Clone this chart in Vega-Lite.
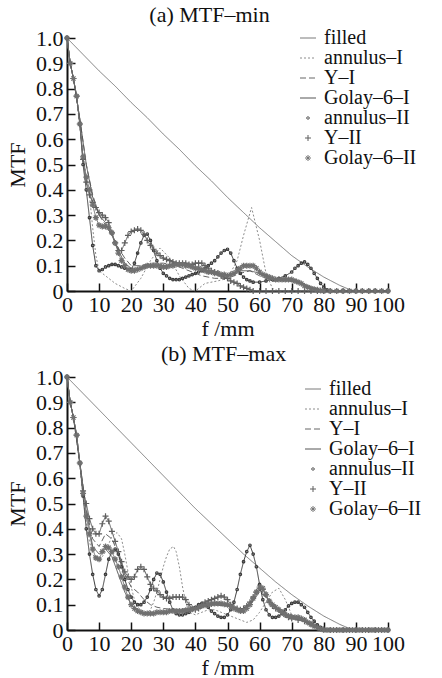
{
"$schema": "https://vega.github.io/schema/vega-lite/v6.json",
"padding": {"left": 6, "top": 4, "right": 5, "bottom": 0},
"config": {
  "font": "Liberation Serif",
  "view": {"stroke": null},
  "axis": {"labelFont": "Liberation Serif", "labelFontSize": 22, "labelColor": "#111", "titleFont": "Liberation Serif", "titleFontSize": 22, "titleFontWeight": "normal", "titleColor": "#111", "domainColor": "#111", "domainWidth": 2, "tickColor": "#111", "tickWidth": 1.5, "tickSize": -8, "grid": false, "labelFlush": false, "labelOverlap": false},
  "legend": {"labelFont": "Liberation Serif", "labelFontSize": 20, "labelColor": "#111", "symbolSize": 100, "symbolStrokeWidth": 1, "rowPadding": 0, "labelOffset": 6},
  "title": {"font": "Liberation Serif", "fontSize": 22, "fontWeight": "normal", "color": "#111"}
},
"datasets": {"mtf": [
{"p":"a","s":"filled","f":0,"v":1},{"p":"a","s":"filled","f":5,"v":0.935},{"p":"a","s":"filled","f":10,"v":0.87},{"p":"a","s":"filled","f":15,"v":0.81},{"p":"a","s":"filled","f":20,"v":0.745},{"p":"a","s":"filled","f":25,"v":0.685},{"p":"a","s":"filled","f":30,"v":0.62},{"p":"a","s":"filled","f":35,"v":0.56},{"p":"a","s":"filled","f":40,"v":0.495},{"p":"a","s":"filled","f":45,"v":0.435},{"p":"a","s":"filled","f":50,"v":0.37},{"p":"a","s":"filled","f":55,"v":0.31},{"p":"a","s":"filled","f":60,"v":0.25},{"p":"a","s":"filled","f":65,"v":0.195},{"p":"a","s":"filled","f":70,"v":0.14},{"p":"a","s":"filled","f":75,"v":0.095},{"p":"a","s":"filled","f":80,"v":0.055},{"p":"a","s":"filled","f":85,"v":0.022},{"p":"a","s":"filled","f":88,"v":0.006},{"p":"a","s":"filled","f":90,"v":0},{"p":"a","s":"filled","f":100,"v":0},

{"p":"a","s":"annulus–I","f":0,"v":1},{"p":"a","s":"annulus–I","f":1,"v":0.9},{"p":"a","s":"annulus–I","f":2,"v":0.84},{"p":"a","s":"annulus–I","f":3,"v":0.76},{"p":"a","s":"annulus–I","f":4,"v":0.65},{"p":"a","s":"annulus–I","f":5,"v":0.54},{"p":"a","s":"annulus–I","f":6,"v":0.45},{"p":"a","s":"annulus–I","f":7,"v":0.38},{"p":"a","s":"annulus–I","f":8,"v":0.25},{"p":"a","s":"annulus–I","f":9,"v":0.14},{"p":"a","s":"annulus–I","f":10,"v":0.08},{"p":"a","s":"annulus–I","f":12,"v":0.06},{"p":"a","s":"annulus–I","f":15,"v":0.03},{"p":"a","s":"annulus–I","f":18,"v":0.01},{"p":"a","s":"annulus–I","f":20,"v":0},{"p":"a","s":"annulus–I","f":23,"v":0.05},{"p":"a","s":"annulus–I","f":26,"v":0.12},{"p":"a","s":"annulus–I","f":29,"v":0.17},{"p":"a","s":"annulus–I","f":32,"v":0.13},{"p":"a","s":"annulus–I","f":35,"v":0.06},{"p":"a","s":"annulus–I","f":38,"v":0.01},{"p":"a","s":"annulus–I","f":40,"v":0},{"p":"a","s":"annulus–I","f":43,"v":0.03},{"p":"a","s":"annulus–I","f":47,"v":0.04},{"p":"a","s":"annulus–I","f":50,"v":0.05},{"p":"a","s":"annulus–I","f":53,"v":0.12},{"p":"a","s":"annulus–I","f":55,"v":0.22},{"p":"a","s":"annulus–I","f":57.5,"v":0.33},{"p":"a","s":"annulus–I","f":60,"v":0.2},{"p":"a","s":"annulus–I","f":62,"v":0.07},{"p":"a","s":"annulus–I","f":64,"v":0.01},{"p":"a","s":"annulus–I","f":66,"v":0},{"p":"a","s":"annulus–I","f":100,"v":0},

{"p":"a","s":"Y–I","f":0,"v":1},{"p":"a","s":"Y–I","f":1,"v":0.9},{"p":"a","s":"Y–I","f":2,"v":0.84},{"p":"a","s":"Y–I","f":4,"v":0.68},{"p":"a","s":"Y–I","f":6,"v":0.5},{"p":"a","s":"Y–I","f":8,"v":0.38},{"p":"a","s":"Y–I","f":10,"v":0.3},{"p":"a","s":"Y–I","f":12,"v":0.26},{"p":"a","s":"Y–I","f":14,"v":0.22},{"p":"a","s":"Y–I","f":16,"v":0.17},{"p":"a","s":"Y–I","f":18,"v":0.13},{"p":"a","s":"Y–I","f":20,"v":0.1},{"p":"a","s":"Y–I","f":23,"v":0.1},{"p":"a","s":"Y–I","f":26,"v":0.11},{"p":"a","s":"Y–I","f":30,"v":0.11},{"p":"a","s":"Y–I","f":34,"v":0.1},{"p":"a","s":"Y–I","f":38,"v":0.08},{"p":"a","s":"Y–I","f":42,"v":0.06},{"p":"a","s":"Y–I","f":46,"v":0.05},{"p":"a","s":"Y–I","f":50,"v":0.05},{"p":"a","s":"Y–I","f":54,"v":0.07},{"p":"a","s":"Y–I","f":57,"v":0.08},{"p":"a","s":"Y–I","f":60,"v":0.06},{"p":"a","s":"Y–I","f":64,"v":0.04},{"p":"a","s":"Y–I","f":68,"v":0.04},{"p":"a","s":"Y–I","f":72,"v":0.035},{"p":"a","s":"Y–I","f":76,"v":0.015},{"p":"a","s":"Y–I","f":80,"v":0},{"p":"a","s":"Y–I","f":100,"v":0},

{"p":"a","s":"Golay–6–I","f":0,"v":1},{"p":"a","s":"Golay–6–I","f":1,"v":0.9},{"p":"a","s":"Golay–6–I","f":2,"v":0.84},{"p":"a","s":"Golay–6–I","f":4,"v":0.68},{"p":"a","s":"Golay–6–I","f":6,"v":0.5},{"p":"a","s":"Golay–6–I","f":8,"v":0.37},{"p":"a","s":"Golay–6–I","f":10,"v":0.3},{"p":"a","s":"Golay–6–I","f":12,"v":0.27},{"p":"a","s":"Golay–6–I","f":14,"v":0.22},{"p":"a","s":"Golay–6–I","f":16,"v":0.16},{"p":"a","s":"Golay–6–I","f":18,"v":0.11},{"p":"a","s":"Golay–6–I","f":20,"v":0.09},{"p":"a","s":"Golay–6–I","f":23,"v":0.09},{"p":"a","s":"Golay–6–I","f":26,"v":0.1},{"p":"a","s":"Golay–6–I","f":30,"v":0.1},{"p":"a","s":"Golay–6–I","f":34,"v":0.11},{"p":"a","s":"Golay–6–I","f":38,"v":0.1},{"p":"a","s":"Golay–6–I","f":42,"v":0.08},{"p":"a","s":"Golay–6–I","f":46,"v":0.07},{"p":"a","s":"Golay–6–I","f":50,"v":0.06},{"p":"a","s":"Golay–6–I","f":54,"v":0.08},{"p":"a","s":"Golay–6–I","f":57,"v":0.08},{"p":"a","s":"Golay–6–I","f":60,"v":0.07},{"p":"a","s":"Golay–6–I","f":64,"v":0.04},{"p":"a","s":"Golay–6–I","f":68,"v":0.045},{"p":"a","s":"Golay–6–I","f":71,"v":0.045},{"p":"a","s":"Golay–6–I","f":75,"v":0.02},{"p":"a","s":"Golay–6–I","f":79,"v":0.005},{"p":"a","s":"Golay–6–I","f":82,"v":0},{"p":"a","s":"Golay–6–I","f":100,"v":0},

{"p":"a","s":"annulus–II","f":0,"v":1},{"p":"a","s":"annulus–II","f":1,"v":0.9},{"p":"a","s":"annulus–II","f":2,"v":0.84},{"p":"a","s":"annulus–II","f":3,"v":0.77},{"p":"a","s":"annulus–II","f":4,"v":0.66},{"p":"a","s":"annulus–II","f":5,"v":0.5},{"p":"a","s":"annulus–II","f":6,"v":0.4},{"p":"a","s":"annulus–II","f":7,"v":0.29},{"p":"a","s":"annulus–II","f":8,"v":0.18},{"p":"a","s":"annulus–II","f":9,"v":0.1},{"p":"a","s":"annulus–II","f":10,"v":0.08},{"p":"a","s":"annulus–II","f":11,"v":0.085},{"p":"a","s":"annulus–II","f":12,"v":0.095},{"p":"a","s":"annulus–II","f":13,"v":0.1},{"p":"a","s":"annulus–II","f":14,"v":0.105},{"p":"a","s":"annulus–II","f":15,"v":0.105},{"p":"a","s":"annulus–II","f":16,"v":0.1},{"p":"a","s":"annulus–II","f":17,"v":0.095},{"p":"a","s":"annulus–II","f":18,"v":0.09},{"p":"a","s":"annulus–II","f":19,"v":0.085},{"p":"a","s":"annulus–II","f":20,"v":0.085},{"p":"a","s":"annulus–II","f":21,"v":0.11},{"p":"a","s":"annulus–II","f":22,"v":0.15},{"p":"a","s":"annulus–II","f":23,"v":0.19},{"p":"a","s":"annulus–II","f":24,"v":0.22},{"p":"a","s":"annulus–II","f":25,"v":0.225},{"p":"a","s":"annulus–II","f":26,"v":0.2},{"p":"a","s":"annulus–II","f":27,"v":0.16},{"p":"a","s":"annulus–II","f":28,"v":0.12},{"p":"a","s":"annulus–II","f":29,"v":0.09},{"p":"a","s":"annulus–II","f":30,"v":0.07},{"p":"a","s":"annulus–II","f":31,"v":0.06},{"p":"a","s":"annulus–II","f":32,"v":0.05},{"p":"a","s":"annulus–II","f":33,"v":0.045},{"p":"a","s":"annulus–II","f":34,"v":0.045},{"p":"a","s":"annulus–II","f":35,"v":0.045},{"p":"a","s":"annulus–II","f":36,"v":0.05},{"p":"a","s":"annulus–II","f":37,"v":0.055},{"p":"a","s":"annulus–II","f":38,"v":0.06},{"p":"a","s":"annulus–II","f":39,"v":0.065},{"p":"a","s":"annulus–II","f":40,"v":0.07},{"p":"a","s":"annulus–II","f":41,"v":0.075},{"p":"a","s":"annulus–II","f":42,"v":0.08},{"p":"a","s":"annulus–II","f":43,"v":0.09},{"p":"a","s":"annulus–II","f":44,"v":0.1},{"p":"a","s":"annulus–II","f":45,"v":0.11},{"p":"a","s":"annulus–II","f":46,"v":0.12},{"p":"a","s":"annulus–II","f":47,"v":0.135},{"p":"a","s":"annulus–II","f":48,"v":0.15},{"p":"a","s":"annulus–II","f":49,"v":0.16},{"p":"a","s":"annulus–II","f":50,"v":0.165},{"p":"a","s":"annulus–II","f":51,"v":0.15},{"p":"a","s":"annulus–II","f":52,"v":0.12},{"p":"a","s":"annulus–II","f":53,"v":0.09},{"p":"a","s":"annulus–II","f":54,"v":0.07},{"p":"a","s":"annulus–II","f":55,"v":0.055},{"p":"a","s":"annulus–II","f":56,"v":0.045},{"p":"a","s":"annulus–II","f":57,"v":0.04},{"p":"a","s":"annulus–II","f":58,"v":0.035},{"p":"a","s":"annulus–II","f":60,"v":0.035},{"p":"a","s":"annulus–II","f":62,"v":0.04},{"p":"a","s":"annulus–II","f":64,"v":0.045},{"p":"a","s":"annulus–II","f":66,"v":0.05},{"p":"a","s":"annulus–II","f":68,"v":0.06},{"p":"a","s":"annulus–II","f":70,"v":0.075},{"p":"a","s":"annulus–II","f":71,"v":0.09},{"p":"a","s":"annulus–II","f":72,"v":0.1},{"p":"a","s":"annulus–II","f":73,"v":0.11},{"p":"a","s":"annulus–II","f":74,"v":0.115},{"p":"a","s":"annulus–II","f":75,"v":0.105},{"p":"a","s":"annulus–II","f":76,"v":0.09},{"p":"a","s":"annulus–II","f":77,"v":0.07},{"p":"a","s":"annulus–II","f":78,"v":0.05},{"p":"a","s":"annulus–II","f":79,"v":0.03},{"p":"a","s":"annulus–II","f":80,"v":0.015},{"p":"a","s":"annulus–II","f":81,"v":0.005},{"p":"a","s":"annulus–II","f":82,"v":0},{"p":"a","s":"annulus–II","f":84,"v":0},{"p":"a","s":"annulus–II","f":86,"v":0},{"p":"a","s":"annulus–II","f":88,"v":0},{"p":"a","s":"annulus–II","f":90,"v":0},{"p":"a","s":"annulus–II","f":92,"v":0},{"p":"a","s":"annulus–II","f":94,"v":0},{"p":"a","s":"annulus–II","f":96,"v":0},{"p":"a","s":"annulus–II","f":98,"v":0},{"p":"a","s":"annulus–II","f":100,"v":0},

{"p":"a","s":"Y–II","f":0,"v":1},{"p":"a","s":"Y–II","f":1,"v":0.9},{"p":"a","s":"Y–II","f":2,"v":0.84},{"p":"a","s":"Y–II","f":3,"v":0.77},{"p":"a","s":"Y–II","f":4,"v":0.66},{"p":"a","s":"Y–II","f":5,"v":0.52},{"p":"a","s":"Y–II","f":6,"v":0.43},{"p":"a","s":"Y–II","f":7,"v":0.38},{"p":"a","s":"Y–II","f":8,"v":0.35},{"p":"a","s":"Y–II","f":9,"v":0.33},{"p":"a","s":"Y–II","f":10,"v":0.31},{"p":"a","s":"Y–II","f":11,"v":0.3},{"p":"a","s":"Y–II","f":12,"v":0.29},{"p":"a","s":"Y–II","f":13,"v":0.27},{"p":"a","s":"Y–II","f":14,"v":0.23},{"p":"a","s":"Y–II","f":15,"v":0.19},{"p":"a","s":"Y–II","f":16,"v":0.16},{"p":"a","s":"Y–II","f":17,"v":0.16},{"p":"a","s":"Y–II","f":18,"v":0.19},{"p":"a","s":"Y–II","f":19,"v":0.22},{"p":"a","s":"Y–II","f":20,"v":0.235},{"p":"a","s":"Y–II","f":21,"v":0.24},{"p":"a","s":"Y–II","f":22,"v":0.245},{"p":"a","s":"Y–II","f":23,"v":0.24},{"p":"a","s":"Y–II","f":24,"v":0.225},{"p":"a","s":"Y–II","f":25,"v":0.2},{"p":"a","s":"Y–II","f":26,"v":0.18},{"p":"a","s":"Y–II","f":27,"v":0.165},{"p":"a","s":"Y–II","f":28,"v":0.15},{"p":"a","s":"Y–II","f":29,"v":0.14},{"p":"a","s":"Y–II","f":30,"v":0.13},{"p":"a","s":"Y–II","f":31,"v":0.125},{"p":"a","s":"Y–II","f":32,"v":0.12},{"p":"a","s":"Y–II","f":33,"v":0.115},{"p":"a","s":"Y–II","f":34,"v":0.11},{"p":"a","s":"Y–II","f":35,"v":0.11},{"p":"a","s":"Y–II","f":36,"v":0.11},{"p":"a","s":"Y–II","f":37,"v":0.11},{"p":"a","s":"Y–II","f":38,"v":0.105},{"p":"a","s":"Y–II","f":39,"v":0.105},{"p":"a","s":"Y–II","f":40,"v":0.11},{"p":"a","s":"Y–II","f":41,"v":0.11},{"p":"a","s":"Y–II","f":42,"v":0.11},{"p":"a","s":"Y–II","f":43,"v":0.1},{"p":"a","s":"Y–II","f":44,"v":0.09},{"p":"a","s":"Y–II","f":45,"v":0.08},{"p":"a","s":"Y–II","f":46,"v":0.075},{"p":"a","s":"Y–II","f":47,"v":0.07},{"p":"a","s":"Y–II","f":48,"v":0.06},{"p":"a","s":"Y–II","f":49,"v":0.055},{"p":"a","s":"Y–II","f":50,"v":0.05},{"p":"a","s":"Y–II","f":51,"v":0.04},{"p":"a","s":"Y–II","f":52,"v":0.035},{"p":"a","s":"Y–II","f":53,"v":0.03},{"p":"a","s":"Y–II","f":54,"v":0.02},{"p":"a","s":"Y–II","f":55,"v":0.015},{"p":"a","s":"Y–II","f":56,"v":0.01},{"p":"a","s":"Y–II","f":57,"v":0.005},{"p":"a","s":"Y–II","f":58,"v":0},{"p":"a","s":"Y–II","f":60,"v":0},{"p":"a","s":"Y–II","f":62,"v":0},{"p":"a","s":"Y–II","f":64,"v":0},{"p":"a","s":"Y–II","f":66,"v":0},{"p":"a","s":"Y–II","f":68,"v":0},{"p":"a","s":"Y–II","f":70,"v":0},{"p":"a","s":"Y–II","f":72,"v":0},{"p":"a","s":"Y–II","f":74,"v":0},{"p":"a","s":"Y–II","f":76,"v":0},{"p":"a","s":"Y–II","f":78,"v":0},{"p":"a","s":"Y–II","f":80,"v":0},{"p":"a","s":"Y–II","f":82,"v":0},{"p":"a","s":"Y–II","f":84,"v":0},{"p":"a","s":"Y–II","f":86,"v":0},{"p":"a","s":"Y–II","f":88,"v":0},{"p":"a","s":"Y–II","f":90,"v":0},{"p":"a","s":"Y–II","f":92,"v":0},{"p":"a","s":"Y–II","f":94,"v":0},{"p":"a","s":"Y–II","f":96,"v":0},{"p":"a","s":"Y–II","f":98,"v":0},{"p":"a","s":"Y–II","f":100,"v":0},

{"p":"a","s":"Golay–6–II","f":0,"v":1},{"p":"a","s":"Golay–6–II","f":1,"v":0.9},{"p":"a","s":"Golay–6–II","f":2,"v":0.84},{"p":"a","s":"Golay–6–II","f":3,"v":0.77},{"p":"a","s":"Golay–6–II","f":4,"v":0.66},{"p":"a","s":"Golay–6–II","f":5,"v":0.53},{"p":"a","s":"Golay–6–II","f":6,"v":0.45},{"p":"a","s":"Golay–6–II","f":7,"v":0.4},{"p":"a","s":"Golay–6–II","f":8,"v":0.34},{"p":"a","s":"Golay–6–II","f":9,"v":0.29},{"p":"a","s":"Golay–6–II","f":10,"v":0.26},{"p":"a","s":"Golay–6–II","f":11,"v":0.255},{"p":"a","s":"Golay–6–II","f":12,"v":0.255},{"p":"a","s":"Golay–6–II","f":13,"v":0.25},{"p":"a","s":"Golay–6–II","f":14,"v":0.23},{"p":"a","s":"Golay–6–II","f":15,"v":0.19},{"p":"a","s":"Golay–6–II","f":16,"v":0.15},{"p":"a","s":"Golay–6–II","f":17,"v":0.12},{"p":"a","s":"Golay–6–II","f":18,"v":0.1},{"p":"a","s":"Golay–6–II","f":19,"v":0.085},{"p":"a","s":"Golay–6–II","f":20,"v":0.08},{"p":"a","s":"Golay–6–II","f":21,"v":0.08},{"p":"a","s":"Golay–6–II","f":22,"v":0.085},{"p":"a","s":"Golay–6–II","f":23,"v":0.09},{"p":"a","s":"Golay–6–II","f":24,"v":0.095},{"p":"a","s":"Golay–6–II","f":25,"v":0.1},{"p":"a","s":"Golay–6–II","f":26,"v":0.1},{"p":"a","s":"Golay–6–II","f":27,"v":0.1},{"p":"a","s":"Golay–6–II","f":28,"v":0.1},{"p":"a","s":"Golay–6–II","f":29,"v":0.1},{"p":"a","s":"Golay–6–II","f":30,"v":0.095},{"p":"a","s":"Golay–6–II","f":31,"v":0.095},{"p":"a","s":"Golay–6–II","f":32,"v":0.1},{"p":"a","s":"Golay–6–II","f":33,"v":0.1},{"p":"a","s":"Golay–6–II","f":34,"v":0.105},{"p":"a","s":"Golay–6–II","f":35,"v":0.105},{"p":"a","s":"Golay–6–II","f":36,"v":0.105},{"p":"a","s":"Golay–6–II","f":37,"v":0.1},{"p":"a","s":"Golay–6–II","f":38,"v":0.1},{"p":"a","s":"Golay–6–II","f":39,"v":0.095},{"p":"a","s":"Golay–6–II","f":40,"v":0.09},{"p":"a","s":"Golay–6–II","f":41,"v":0.09},{"p":"a","s":"Golay–6–II","f":42,"v":0.085},{"p":"a","s":"Golay–6–II","f":43,"v":0.08},{"p":"a","s":"Golay–6–II","f":44,"v":0.075},{"p":"a","s":"Golay–6–II","f":45,"v":0.075},{"p":"a","s":"Golay–6–II","f":46,"v":0.07},{"p":"a","s":"Golay–6–II","f":47,"v":0.07},{"p":"a","s":"Golay–6–II","f":48,"v":0.065},{"p":"a","s":"Golay–6–II","f":49,"v":0.065},{"p":"a","s":"Golay–6–II","f":50,"v":0.06},{"p":"a","s":"Golay–6–II","f":51,"v":0.065},{"p":"a","s":"Golay–6–II","f":52,"v":0.07},{"p":"a","s":"Golay–6–II","f":53,"v":0.08},{"p":"a","s":"Golay–6–II","f":54,"v":0.09},{"p":"a","s":"Golay–6–II","f":55,"v":0.1},{"p":"a","s":"Golay–6–II","f":56,"v":0.1},{"p":"a","s":"Golay–6–II","f":57,"v":0.1},{"p":"a","s":"Golay–6–II","f":58,"v":0.1},{"p":"a","s":"Golay–6–II","f":59,"v":0.09},{"p":"a","s":"Golay–6–II","f":60,"v":0.075},{"p":"a","s":"Golay–6–II","f":61,"v":0.065},{"p":"a","s":"Golay–6–II","f":62,"v":0.06},{"p":"a","s":"Golay–6–II","f":63,"v":0.055},{"p":"a","s":"Golay–6–II","f":64,"v":0.05},{"p":"a","s":"Golay–6–II","f":65,"v":0.045},{"p":"a","s":"Golay–6–II","f":66,"v":0.045},{"p":"a","s":"Golay–6–II","f":67,"v":0.045},{"p":"a","s":"Golay–6–II","f":68,"v":0.045},{"p":"a","s":"Golay–6–II","f":69,"v":0.045},{"p":"a","s":"Golay–6–II","f":70,"v":0.045},{"p":"a","s":"Golay–6–II","f":71,"v":0.04},{"p":"a","s":"Golay–6–II","f":72,"v":0.035},{"p":"a","s":"Golay–6–II","f":73,"v":0.03},{"p":"a","s":"Golay–6–II","f":74,"v":0.02},{"p":"a","s":"Golay–6–II","f":75,"v":0.015},{"p":"a","s":"Golay–6–II","f":76,"v":0.01},{"p":"a","s":"Golay–6–II","f":77,"v":0.007},{"p":"a","s":"Golay–6–II","f":78,"v":0.005},{"p":"a","s":"Golay–6–II","f":79,"v":0.002},{"p":"a","s":"Golay–6–II","f":80,"v":0},{"p":"a","s":"Golay–6–II","f":82,"v":0},{"p":"a","s":"Golay–6–II","f":84,"v":0},{"p":"a","s":"Golay–6–II","f":86,"v":0},{"p":"a","s":"Golay–6–II","f":88,"v":0},{"p":"a","s":"Golay–6–II","f":90,"v":0},{"p":"a","s":"Golay–6–II","f":92,"v":0},{"p":"a","s":"Golay–6–II","f":94,"v":0},{"p":"a","s":"Golay–6–II","f":96,"v":0},{"p":"a","s":"Golay–6–II","f":98,"v":0},{"p":"a","s":"Golay–6–II","f":100,"v":0},

{"p":"b","s":"filled","f":0,"v":1},{"p":"b","s":"filled","f":5,"v":0.935},{"p":"b","s":"filled","f":10,"v":0.87},{"p":"b","s":"filled","f":15,"v":0.805},{"p":"b","s":"filled","f":20,"v":0.74},{"p":"b","s":"filled","f":25,"v":0.675},{"p":"b","s":"filled","f":30,"v":0.61},{"p":"b","s":"filled","f":35,"v":0.545},{"p":"b","s":"filled","f":40,"v":0.48},{"p":"b","s":"filled","f":45,"v":0.42},{"p":"b","s":"filled","f":50,"v":0.36},{"p":"b","s":"filled","f":55,"v":0.3},{"p":"b","s":"filled","f":60,"v":0.245},{"p":"b","s":"filled","f":65,"v":0.19},{"p":"b","s":"filled","f":70,"v":0.14},{"p":"b","s":"filled","f":75,"v":0.095},{"p":"b","s":"filled","f":80,"v":0.055},{"p":"b","s":"filled","f":85,"v":0.022},{"p":"b","s":"filled","f":88,"v":0.006},{"p":"b","s":"filled","f":90,"v":0},{"p":"b","s":"filled","f":100,"v":0},

{"p":"b","s":"annulus–I","f":0,"v":1},{"p":"b","s":"annulus–I","f":1,"v":0.9},{"p":"b","s":"annulus–I","f":2,"v":0.84},{"p":"b","s":"annulus–I","f":3,"v":0.76},{"p":"b","s":"annulus–I","f":4,"v":0.65},{"p":"b","s":"annulus–I","f":5,"v":0.53},{"p":"b","s":"annulus–I","f":6,"v":0.43},{"p":"b","s":"annulus–I","f":7,"v":0.35},{"p":"b","s":"annulus–I","f":8,"v":0.3},{"p":"b","s":"annulus–I","f":9,"v":0.28},{"p":"b","s":"annulus–I","f":10,"v":0.28},{"p":"b","s":"annulus–I","f":11,"v":0.29},{"p":"b","s":"annulus–I","f":12,"v":0.31},{"p":"b","s":"annulus–I","f":13,"v":0.34},{"p":"b","s":"annulus–I","f":14,"v":0.37},{"p":"b","s":"annulus–I","f":15.6,"v":0.385},{"p":"b","s":"annulus–I","f":17,"v":0.36},{"p":"b","s":"annulus–I","f":18,"v":0.3},{"p":"b","s":"annulus–I","f":19,"v":0.23},{"p":"b","s":"annulus–I","f":20,"v":0.17},{"p":"b","s":"annulus–I","f":21,"v":0.12},{"p":"b","s":"annulus–I","f":22,"v":0.09},{"p":"b","s":"annulus–I","f":23,"v":0.08},{"p":"b","s":"annulus–I","f":24,"v":0.07},{"p":"b","s":"annulus–I","f":25,"v":0.07},{"p":"b","s":"annulus–I","f":26,"v":0.08},{"p":"b","s":"annulus–I","f":27,"v":0.11},{"p":"b","s":"annulus–I","f":28,"v":0.15},{"p":"b","s":"annulus–I","f":29,"v":0.2},{"p":"b","s":"annulus–I","f":30,"v":0.25},{"p":"b","s":"annulus–I","f":31,"v":0.29},{"p":"b","s":"annulus–I","f":32,"v":0.32},{"p":"b","s":"annulus–I","f":33.2,"v":0.33},{"p":"b","s":"annulus–I","f":34,"v":0.31},{"p":"b","s":"annulus–I","f":35,"v":0.25},{"p":"b","s":"annulus–I","f":36,"v":0.17},{"p":"b","s":"annulus–I","f":37,"v":0.11},{"p":"b","s":"annulus–I","f":38,"v":0.07},{"p":"b","s":"annulus–I","f":40,"v":0.06},{"p":"b","s":"annulus–I","f":42,"v":0.07},{"p":"b","s":"annulus–I","f":44,"v":0.08},{"p":"b","s":"annulus–I","f":46,"v":0.08},{"p":"b","s":"annulus–I","f":48,"v":0.07},{"p":"b","s":"annulus–I","f":50,"v":0.06},{"p":"b","s":"annulus–I","f":52,"v":0.05},{"p":"b","s":"annulus–I","f":54,"v":0.04},{"p":"b","s":"annulus–I","f":56,"v":0.03},{"p":"b","s":"annulus–I","f":58,"v":0.04},{"p":"b","s":"annulus–I","f":60,"v":0.07},{"p":"b","s":"annulus–I","f":62,"v":0.11},{"p":"b","s":"annulus–I","f":64,"v":0.15},{"p":"b","s":"annulus–I","f":66,"v":0.165},{"p":"b","s":"annulus–I","f":68,"v":0.12},{"p":"b","s":"annulus–I","f":70,"v":0.06},{"p":"b","s":"annulus–I","f":72,"v":0.04},{"p":"b","s":"annulus–I","f":74,"v":0.04},{"p":"b","s":"annulus–I","f":76,"v":0.03},{"p":"b","s":"annulus–I","f":78,"v":0.015},{"p":"b","s":"annulus–I","f":80,"v":0.005},{"p":"b","s":"annulus–I","f":82,"v":0},{"p":"b","s":"annulus–I","f":100,"v":0},

{"p":"b","s":"Y–I","f":0,"v":1},{"p":"b","s":"Y–I","f":1,"v":0.9},{"p":"b","s":"Y–I","f":2,"v":0.84},{"p":"b","s":"Y–I","f":4,"v":0.66},{"p":"b","s":"Y–I","f":6,"v":0.48},{"p":"b","s":"Y–I","f":8,"v":0.36},{"p":"b","s":"Y–I","f":10,"v":0.33},{"p":"b","s":"Y–I","f":12,"v":0.38},{"p":"b","s":"Y–I","f":14,"v":0.36},{"p":"b","s":"Y–I","f":16,"v":0.3},{"p":"b","s":"Y–I","f":18,"v":0.22},{"p":"b","s":"Y–I","f":20,"v":0.17},{"p":"b","s":"Y–I","f":22,"v":0.15},{"p":"b","s":"Y–I","f":24,"v":0.12},{"p":"b","s":"Y–I","f":26,"v":0.1},{"p":"b","s":"Y–I","f":28,"v":0.09},{"p":"b","s":"Y–I","f":30,"v":0.085},{"p":"b","s":"Y–I","f":34,"v":0.08},{"p":"b","s":"Y–I","f":38,"v":0.085},{"p":"b","s":"Y–I","f":42,"v":0.1},{"p":"b","s":"Y–I","f":46,"v":0.11},{"p":"b","s":"Y–I","f":50,"v":0.1},{"p":"b","s":"Y–I","f":54,"v":0.08},{"p":"b","s":"Y–I","f":57,"v":0.1},{"p":"b","s":"Y–I","f":60,"v":0.15},{"p":"b","s":"Y–I","f":62,"v":0.13},{"p":"b","s":"Y–I","f":65,"v":0.09},{"p":"b","s":"Y–I","f":68,"v":0.07},{"p":"b","s":"Y–I","f":72,"v":0.05},{"p":"b","s":"Y–I","f":76,"v":0.03},{"p":"b","s":"Y–I","f":80,"v":0.005},{"p":"b","s":"Y–I","f":82,"v":0},{"p":"b","s":"Y–I","f":100,"v":0},

{"p":"b","s":"Golay–6–I","f":0,"v":1},{"p":"b","s":"Golay–6–I","f":1,"v":0.9},{"p":"b","s":"Golay–6–I","f":2,"v":0.84},{"p":"b","s":"Golay–6–I","f":4,"v":0.66},{"p":"b","s":"Golay–6–I","f":6,"v":0.47},{"p":"b","s":"Golay–6–I","f":8,"v":0.33},{"p":"b","s":"Golay–6–I","f":10,"v":0.3},{"p":"b","s":"Golay–6–I","f":12,"v":0.32},{"p":"b","s":"Golay–6–I","f":14,"v":0.29},{"p":"b","s":"Golay–6–I","f":16,"v":0.22},{"p":"b","s":"Golay–6–I","f":18,"v":0.15},{"p":"b","s":"Golay–6–I","f":20,"v":0.1},{"p":"b","s":"Golay–6–I","f":22,"v":0.075},{"p":"b","s":"Golay–6–I","f":25,"v":0.065},{"p":"b","s":"Golay–6–I","f":30,"v":0.07},{"p":"b","s":"Golay–6–I","f":35,"v":0.075},{"p":"b","s":"Golay–6–I","f":40,"v":0.085},{"p":"b","s":"Golay–6–I","f":45,"v":0.1},{"p":"b","s":"Golay–6–I","f":50,"v":0.095},{"p":"b","s":"Golay–6–I","f":54,"v":0.075},{"p":"b","s":"Golay–6–I","f":57,"v":0.1},{"p":"b","s":"Golay–6–I","f":60,"v":0.16},{"p":"b","s":"Golay–6–I","f":62,"v":0.13},{"p":"b","s":"Golay–6–I","f":65,"v":0.085},{"p":"b","s":"Golay–6–I","f":68,"v":0.06},{"p":"b","s":"Golay–6–I","f":72,"v":0.05},{"p":"b","s":"Golay–6–I","f":76,"v":0.025},{"p":"b","s":"Golay–6–I","f":80,"v":0},{"p":"b","s":"Golay–6–I","f":100,"v":0},

{"p":"b","s":"annulus–II","f":0,"v":1},{"p":"b","s":"annulus–II","f":1,"v":0.9},{"p":"b","s":"annulus–II","f":2,"v":0.84},{"p":"b","s":"annulus–II","f":3,"v":0.77},{"p":"b","s":"annulus–II","f":4,"v":0.66},{"p":"b","s":"annulus–II","f":5,"v":0.53},{"p":"b","s":"annulus–II","f":6,"v":0.4},{"p":"b","s":"annulus–II","f":7,"v":0.3},{"p":"b","s":"annulus–II","f":8,"v":0.22},{"p":"b","s":"annulus–II","f":9,"v":0.16},{"p":"b","s":"annulus–II","f":10,"v":0.135},{"p":"b","s":"annulus–II","f":11,"v":0.16},{"p":"b","s":"annulus–II","f":12,"v":0.22},{"p":"b","s":"annulus–II","f":13,"v":0.28},{"p":"b","s":"annulus–II","f":14,"v":0.31},{"p":"b","s":"annulus–II","f":15,"v":0.32},{"p":"b","s":"annulus–II","f":16,"v":0.3},{"p":"b","s":"annulus–II","f":17,"v":0.25},{"p":"b","s":"annulus–II","f":18,"v":0.2},{"p":"b","s":"annulus–II","f":19,"v":0.16},{"p":"b","s":"annulus–II","f":20,"v":0.13},{"p":"b","s":"annulus–II","f":21,"v":0.11},{"p":"b","s":"annulus–II","f":22,"v":0.1},{"p":"b","s":"annulus–II","f":23,"v":0.1},{"p":"b","s":"annulus–II","f":24,"v":0.11},{"p":"b","s":"annulus–II","f":25,"v":0.13},{"p":"b","s":"annulus–II","f":26,"v":0.16},{"p":"b","s":"annulus–II","f":27,"v":0.2},{"p":"b","s":"annulus–II","f":28,"v":0.225},{"p":"b","s":"annulus–II","f":29,"v":0.22},{"p":"b","s":"annulus–II","f":30,"v":0.19},{"p":"b","s":"annulus–II","f":31,"v":0.15},{"p":"b","s":"annulus–II","f":32,"v":0.11},{"p":"b","s":"annulus–II","f":33,"v":0.08},{"p":"b","s":"annulus–II","f":34,"v":0.065},{"p":"b","s":"annulus–II","f":35,"v":0.06},{"p":"b","s":"annulus–II","f":36,"v":0.06},{"p":"b","s":"annulus–II","f":37,"v":0.065},{"p":"b","s":"annulus–II","f":38,"v":0.07},{"p":"b","s":"annulus–II","f":39,"v":0.08},{"p":"b","s":"annulus–II","f":40,"v":0.09},{"p":"b","s":"annulus–II","f":41,"v":0.1},{"p":"b","s":"annulus–II","f":42,"v":0.105},{"p":"b","s":"annulus–II","f":43,"v":0.1},{"p":"b","s":"annulus–II","f":44,"v":0.09},{"p":"b","s":"annulus–II","f":45,"v":0.075},{"p":"b","s":"annulus–II","f":46,"v":0.065},{"p":"b","s":"annulus–II","f":47,"v":0.055},{"p":"b","s":"annulus–II","f":48,"v":0.05},{"p":"b","s":"annulus–II","f":49,"v":0.05},{"p":"b","s":"annulus–II","f":50,"v":0.06},{"p":"b","s":"annulus–II","f":51,"v":0.08},{"p":"b","s":"annulus–II","f":52,"v":0.11},{"p":"b","s":"annulus–II","f":53,"v":0.16},{"p":"b","s":"annulus–II","f":54,"v":0.22},{"p":"b","s":"annulus–II","f":55,"v":0.27},{"p":"b","s":"annulus–II","f":56,"v":0.31},{"p":"b","s":"annulus–II","f":57,"v":0.335},{"p":"b","s":"annulus–II","f":58,"v":0.3},{"p":"b","s":"annulus–II","f":59,"v":0.25},{"p":"b","s":"annulus–II","f":60,"v":0.18},{"p":"b","s":"annulus–II","f":61,"v":0.12},{"p":"b","s":"annulus–II","f":62,"v":0.08},{"p":"b","s":"annulus–II","f":63,"v":0.06},{"p":"b","s":"annulus–II","f":64,"v":0.05},{"p":"b","s":"annulus–II","f":65,"v":0.05},{"p":"b","s":"annulus–II","f":66,"v":0.055},{"p":"b","s":"annulus–II","f":67,"v":0.065},{"p":"b","s":"annulus–II","f":68,"v":0.08},{"p":"b","s":"annulus–II","f":69,"v":0.095},{"p":"b","s":"annulus–II","f":70,"v":0.105},{"p":"b","s":"annulus–II","f":71,"v":0.11},{"p":"b","s":"annulus–II","f":72,"v":0.11},{"p":"b","s":"annulus–II","f":73,"v":0.1},{"p":"b","s":"annulus–II","f":74,"v":0.09},{"p":"b","s":"annulus–II","f":75,"v":0.07},{"p":"b","s":"annulus–II","f":76,"v":0.05},{"p":"b","s":"annulus–II","f":77,"v":0.035},{"p":"b","s":"annulus–II","f":78,"v":0.02},{"p":"b","s":"annulus–II","f":79,"v":0.01},{"p":"b","s":"annulus–II","f":80,"v":0.003},{"p":"b","s":"annulus–II","f":82,"v":0},{"p":"b","s":"annulus–II","f":84,"v":0},{"p":"b","s":"annulus–II","f":86,"v":0},{"p":"b","s":"annulus–II","f":88,"v":0},{"p":"b","s":"annulus–II","f":90,"v":0},{"p":"b","s":"annulus–II","f":92,"v":0},{"p":"b","s":"annulus–II","f":94,"v":0},{"p":"b","s":"annulus–II","f":96,"v":0},{"p":"b","s":"annulus–II","f":98,"v":0},{"p":"b","s":"annulus–II","f":100,"v":0},

{"p":"b","s":"Y–II","f":0,"v":1},{"p":"b","s":"Y–II","f":1,"v":0.9},{"p":"b","s":"Y–II","f":2,"v":0.84},{"p":"b","s":"Y–II","f":3,"v":0.77},{"p":"b","s":"Y–II","f":4,"v":0.66},{"p":"b","s":"Y–II","f":5,"v":0.55},{"p":"b","s":"Y–II","f":6,"v":0.5},{"p":"b","s":"Y–II","f":7,"v":0.44},{"p":"b","s":"Y–II","f":8,"v":0.4},{"p":"b","s":"Y–II","f":9,"v":0.38},{"p":"b","s":"Y–II","f":10,"v":0.38},{"p":"b","s":"Y–II","f":11,"v":0.42},{"p":"b","s":"Y–II","f":12,"v":0.45},{"p":"b","s":"Y–II","f":13,"v":0.43},{"p":"b","s":"Y–II","f":14,"v":0.39},{"p":"b","s":"Y–II","f":15,"v":0.35},{"p":"b","s":"Y–II","f":16,"v":0.31},{"p":"b","s":"Y–II","f":17,"v":0.27},{"p":"b","s":"Y–II","f":18,"v":0.23},{"p":"b","s":"Y–II","f":19,"v":0.21},{"p":"b","s":"Y–II","f":20,"v":0.2},{"p":"b","s":"Y–II","f":21,"v":0.21},{"p":"b","s":"Y–II","f":22,"v":0.24},{"p":"b","s":"Y–II","f":23,"v":0.25},{"p":"b","s":"Y–II","f":24,"v":0.24},{"p":"b","s":"Y–II","f":25,"v":0.21},{"p":"b","s":"Y–II","f":26,"v":0.18},{"p":"b","s":"Y–II","f":27,"v":0.165},{"p":"b","s":"Y–II","f":28,"v":0.155},{"p":"b","s":"Y–II","f":29,"v":0.14},{"p":"b","s":"Y–II","f":30,"v":0.13},{"p":"b","s":"Y–II","f":31,"v":0.125},{"p":"b","s":"Y–II","f":32,"v":0.125},{"p":"b","s":"Y–II","f":33,"v":0.13},{"p":"b","s":"Y–II","f":34,"v":0.13},{"p":"b","s":"Y–II","f":35,"v":0.13},{"p":"b","s":"Y–II","f":36,"v":0.13},{"p":"b","s":"Y–II","f":37,"v":0.12},{"p":"b","s":"Y–II","f":38,"v":0.1},{"p":"b","s":"Y–II","f":39,"v":0.085},{"p":"b","s":"Y–II","f":40,"v":0.08},{"p":"b","s":"Y–II","f":41,"v":0.085},{"p":"b","s":"Y–II","f":42,"v":0.1},{"p":"b","s":"Y–II","f":43,"v":0.11},{"p":"b","s":"Y–II","f":44,"v":0.115},{"p":"b","s":"Y–II","f":45,"v":0.12},{"p":"b","s":"Y–II","f":46,"v":0.125},{"p":"b","s":"Y–II","f":47,"v":0.13},{"p":"b","s":"Y–II","f":48,"v":0.135},{"p":"b","s":"Y–II","f":49,"v":0.13},{"p":"b","s":"Y–II","f":50,"v":0.12},{"p":"b","s":"Y–II","f":51,"v":0.1},{"p":"b","s":"Y–II","f":52,"v":0.09},{"p":"b","s":"Y–II","f":53,"v":0.085},{"p":"b","s":"Y–II","f":54,"v":0.08},{"p":"b","s":"Y–II","f":55,"v":0.085},{"p":"b","s":"Y–II","f":56,"v":0.095},{"p":"b","s":"Y–II","f":57,"v":0.11},{"p":"b","s":"Y–II","f":58,"v":0.13},{"p":"b","s":"Y–II","f":59,"v":0.15},{"p":"b","s":"Y–II","f":60,"v":0.165},{"p":"b","s":"Y–II","f":61,"v":0.16},{"p":"b","s":"Y–II","f":62,"v":0.14},{"p":"b","s":"Y–II","f":63,"v":0.11},{"p":"b","s":"Y–II","f":64,"v":0.095},{"p":"b","s":"Y–II","f":65,"v":0.085},{"p":"b","s":"Y–II","f":66,"v":0.08},{"p":"b","s":"Y–II","f":67,"v":0.07},{"p":"b","s":"Y–II","f":68,"v":0.06},{"p":"b","s":"Y–II","f":69,"v":0.05},{"p":"b","s":"Y–II","f":70,"v":0.045},{"p":"b","s":"Y–II","f":72,"v":0.04},{"p":"b","s":"Y–II","f":74,"v":0.035},{"p":"b","s":"Y–II","f":76,"v":0.025},{"p":"b","s":"Y–II","f":78,"v":0.012},{"p":"b","s":"Y–II","f":80,"v":0.003},{"p":"b","s":"Y–II","f":82,"v":0},{"p":"b","s":"Y–II","f":84,"v":0},{"p":"b","s":"Y–II","f":86,"v":0},{"p":"b","s":"Y–II","f":88,"v":0},{"p":"b","s":"Y–II","f":90,"v":0},{"p":"b","s":"Y–II","f":92,"v":0},{"p":"b","s":"Y–II","f":94,"v":0},{"p":"b","s":"Y–II","f":96,"v":0},{"p":"b","s":"Y–II","f":98,"v":0},{"p":"b","s":"Y–II","f":100,"v":0},

{"p":"b","s":"Golay–6–II","f":0,"v":1},{"p":"b","s":"Golay–6–II","f":1,"v":0.9},{"p":"b","s":"Golay–6–II","f":2,"v":0.84},{"p":"b","s":"Golay–6–II","f":3,"v":0.77},{"p":"b","s":"Golay–6–II","f":4,"v":0.66},{"p":"b","s":"Golay–6–II","f":5,"v":0.54},{"p":"b","s":"Golay–6–II","f":6,"v":0.45},{"p":"b","s":"Golay–6–II","f":7,"v":0.38},{"p":"b","s":"Golay–6–II","f":8,"v":0.32},{"p":"b","s":"Golay–6–II","f":9,"v":0.285},{"p":"b","s":"Golay–6–II","f":10,"v":0.28},{"p":"b","s":"Golay–6–II","f":11,"v":0.31},{"p":"b","s":"Golay–6–II","f":12,"v":0.33},{"p":"b","s":"Golay–6–II","f":13,"v":0.325},{"p":"b","s":"Golay–6–II","f":14,"v":0.31},{"p":"b","s":"Golay–6–II","f":15,"v":0.28},{"p":"b","s":"Golay–6–II","f":16,"v":0.25},{"p":"b","s":"Golay–6–II","f":17,"v":0.21},{"p":"b","s":"Golay–6–II","f":18,"v":0.17},{"p":"b","s":"Golay–6–II","f":19,"v":0.13},{"p":"b","s":"Golay–6–II","f":20,"v":0.1},{"p":"b","s":"Golay–6–II","f":21,"v":0.085},{"p":"b","s":"Golay–6–II","f":22,"v":0.075},{"p":"b","s":"Golay–6–II","f":23,"v":0.07},{"p":"b","s":"Golay–6–II","f":24,"v":0.065},{"p":"b","s":"Golay–6–II","f":25,"v":0.065},{"p":"b","s":"Golay–6–II","f":26,"v":0.065},{"p":"b","s":"Golay–6–II","f":27,"v":0.065},{"p":"b","s":"Golay–6–II","f":28,"v":0.07},{"p":"b","s":"Golay–6–II","f":29,"v":0.07},{"p":"b","s":"Golay–6–II","f":30,"v":0.07},{"p":"b","s":"Golay–6–II","f":31,"v":0.07},{"p":"b","s":"Golay–6–II","f":32,"v":0.075},{"p":"b","s":"Golay–6–II","f":33,"v":0.075},{"p":"b","s":"Golay–6–II","f":34,"v":0.075},{"p":"b","s":"Golay–6–II","f":35,"v":0.075},{"p":"b","s":"Golay–6–II","f":36,"v":0.075},{"p":"b","s":"Golay–6–II","f":37,"v":0.078},{"p":"b","s":"Golay–6–II","f":38,"v":0.08},{"p":"b","s":"Golay–6–II","f":39,"v":0.082},{"p":"b","s":"Golay–6–II","f":40,"v":0.085},{"p":"b","s":"Golay–6–II","f":41,"v":0.09},{"p":"b","s":"Golay–6–II","f":42,"v":0.095},{"p":"b","s":"Golay–6–II","f":43,"v":0.098},{"p":"b","s":"Golay–6–II","f":44,"v":0.1},{"p":"b","s":"Golay–6–II","f":45,"v":0.103},{"p":"b","s":"Golay–6–II","f":46,"v":0.105},{"p":"b","s":"Golay–6–II","f":47,"v":0.105},{"p":"b","s":"Golay–6–II","f":48,"v":0.105},{"p":"b","s":"Golay–6–II","f":49,"v":0.102},{"p":"b","s":"Golay–6–II","f":50,"v":0.1},{"p":"b","s":"Golay–6–II","f":51,"v":0.093},{"p":"b","s":"Golay–6–II","f":52,"v":0.085},{"p":"b","s":"Golay–6–II","f":53,"v":0.08},{"p":"b","s":"Golay–6–II","f":54,"v":0.075},{"p":"b","s":"Golay–6–II","f":55,"v":0.075},{"p":"b","s":"Golay–6–II","f":56,"v":0.085},{"p":"b","s":"Golay–6–II","f":57,"v":0.1},{"p":"b","s":"Golay–6–II","f":58,"v":0.125},{"p":"b","s":"Golay–6–II","f":59,"v":0.15},{"p":"b","s":"Golay–6–II","f":60,"v":0.17},{"p":"b","s":"Golay–6–II","f":61,"v":0.165},{"p":"b","s":"Golay–6–II","f":62,"v":0.14},{"p":"b","s":"Golay–6–II","f":63,"v":0.115},{"p":"b","s":"Golay–6–II","f":64,"v":0.1},{"p":"b","s":"Golay–6–II","f":65,"v":0.09},{"p":"b","s":"Golay–6–II","f":66,"v":0.08},{"p":"b","s":"Golay–6–II","f":67,"v":0.07},{"p":"b","s":"Golay–6–II","f":68,"v":0.06},{"p":"b","s":"Golay–6–II","f":69,"v":0.055},{"p":"b","s":"Golay–6–II","f":70,"v":0.05},{"p":"b","s":"Golay–6–II","f":71,"v":0.05},{"p":"b","s":"Golay–6–II","f":72,"v":0.05},{"p":"b","s":"Golay–6–II","f":73,"v":0.045},{"p":"b","s":"Golay–6–II","f":74,"v":0.04},{"p":"b","s":"Golay–6–II","f":75,"v":0.03},{"p":"b","s":"Golay–6–II","f":76,"v":0.022},{"p":"b","s":"Golay–6–II","f":77,"v":0.015},{"p":"b","s":"Golay–6–II","f":78,"v":0.01},{"p":"b","s":"Golay–6–II","f":79,"v":0.005},{"p":"b","s":"Golay–6–II","f":80,"v":0},{"p":"b","s":"Golay–6–II","f":81,"v":0},{"p":"b","s":"Golay–6–II","f":82,"v":0},{"p":"b","s":"Golay–6–II","f":83,"v":0},{"p":"b","s":"Golay–6–II","f":84,"v":0},{"p":"b","s":"Golay–6–II","f":85,"v":0},{"p":"b","s":"Golay–6–II","f":86,"v":0},{"p":"b","s":"Golay–6–II","f":87,"v":0},{"p":"b","s":"Golay–6–II","f":88,"v":0},{"p":"b","s":"Golay–6–II","f":89,"v":0},{"p":"b","s":"Golay–6–II","f":90,"v":0},{"p":"b","s":"Golay–6–II","f":91,"v":0},{"p":"b","s":"Golay–6–II","f":92,"v":0},{"p":"b","s":"Golay–6–II","f":93,"v":0},{"p":"b","s":"Golay–6–II","f":94,"v":0},{"p":"b","s":"Golay–6–II","f":95,"v":0},{"p":"b","s":"Golay–6–II","f":96,"v":0},{"p":"b","s":"Golay–6–II","f":97,"v":0},{"p":"b","s":"Golay–6–II","f":98,"v":0},{"p":"b","s":"Golay–6–II","f":99,"v":0},{"p":"b","s":"Golay–6–II","f":100,"v":0}
]},
"spacing": 4,
"resolve": {"scale": {"color": "independent", "strokeDash": "independent", "shape": "independent"}},
"vconcat": [
{
  "title": {"text": "(a) MTF–min", "dx": -18, "offset": 0},
  "width": 321, "height": 253,
  "data": {"name": "mtf"},
  "transform": [{"filter": "datum.p == 'a'"}],
  "encoding": {
    "x": {"field": "f", "type": "quantitative", "scale": {"domain": [0, 100], "nice": false}, "axis": {"values": [0,10,20,30,40,50,60,70,80,90,100], "format": "d", "title": "f /mm", "labelPadding": 11, "titlePadding": 3}},
    "y": {"field": "v", "type": "quantitative", "scale": {"domain": [0, 1], "nice": false}, "axis": {"values": [0,0.1,0.2,0.3,0.4,0.5,0.6,0.7,0.8,0.9,1], "labelExpr": "datum.value == 0 ? '0' : format(datum.value, '.1f')", "title": "MTF", "labelPadding": 12, "titlePadding": 6}},
    "color": {"field": "s", "type": "nominal", "scale": {"domain": ["filled","annulus–I","Y–I","Golay–6–I","annulus–II","Y–II","Golay–6–II"], "range": ["#7a7a7a","#8c8c8c","#666666","#555555","#3a3a3a","#5f5f5f","#707070"]}, "legend": {"orient": "none", "legendX": 231, "legendY": -10, "title": null}}
  },
  "layer": [
    {"mark": {"type": "line", "strokeWidth": 1}, "encoding": {"strokeDash": {"field": "s", "type": "nominal", "scale": {"domain": ["filled","annulus–I","Y–I","Golay–6–I","annulus–II","Y–II","Golay–6–II"], "range": [[1,0],[2,2],[6,3],[1,0],[1,0],[1,0],[1,0]]}, "legend": {"orient": "none", "legendX": 231, "legendY": -10, "title": null}}}},
    {"transform": [{"filter": {"field": "s", "oneOf": ["annulus–II","Y–II","Golay–6–II"]}}], "mark": {"type": "point", "filled": false, "size": 100, "strokeWidth": 1.2, "opacity": 1}, "encoding": {"shape": {"field": "s", "type": "nominal", "scale": {"domain": ["filled","annulus–I","Y–I","Golay–6–I","annulus–II","Y–II","Golay–6–II"], "range": ["M-1.6,0L1.6,0","M-1.6,0L1.6,0","M-1.6,0L1.6,0","M-1.6,0L1.6,0","M0.25,0A0.25,0.25,0,1,1,-0.25,0A0.25,0.25,0,1,1,0.25,0Z","M-0.6,0L0.6,0M0,-0.6L0,0.6","M-0.6,0L0.6,0M0,-0.6L0,0.6M-0.42,-0.42L0.42,0.42M-0.42,0.42L0.42,-0.42"]}, "legend": {"orient": "none", "legendX": 231, "legendY": -10, "title": null}}}}
  ]
},
{
  "title": {"text": "(b) MTF–max", "dx": -4, "offset": 0},
  "width": 321, "height": 253,
  "data": {"name": "mtf"},
  "transform": [{"filter": "datum.p == 'b'"}],
  "encoding": {
    "x": {"field": "f", "type": "quantitative", "scale": {"domain": [0, 100], "nice": false}, "axis": {"values": [0,10,20,30,40,50,60,70,80,90,100], "format": "d", "title": "f /mm", "labelPadding": 11, "titlePadding": 3}},
    "y": {"field": "v", "type": "quantitative", "scale": {"domain": [0, 1], "nice": false}, "axis": {"values": [0,0.1,0.2,0.3,0.4,0.5,0.6,0.7,0.8,0.9,1], "labelExpr": "datum.value == 0 ? '0' : format(datum.value, '.1f')", "title": "MTF", "labelPadding": 12, "titlePadding": 6}},
    "color": {"field": "s", "type": "nominal", "scale": {"domain": ["filled","annulus–I","Y–I","Golay–6–I","annulus–II","Y–II","Golay–6–II"], "range": ["#7a7a7a","#8c8c8c","#666666","#555555","#3a3a3a","#5f5f5f","#707070"]}, "legend": {"orient": "none", "legendX": 236, "legendY": 2, "title": null}}
  },
  "layer": [
    {"mark": {"type": "line", "strokeWidth": 1}, "encoding": {"strokeDash": {"field": "s", "type": "nominal", "scale": {"domain": ["filled","annulus–I","Y–I","Golay–6–I","annulus–II","Y–II","Golay–6–II"], "range": [[1,0],[2,2],[6,3],[1,0],[1,0],[1,0],[1,0]]}, "legend": {"orient": "none", "legendX": 236, "legendY": 2, "title": null}}}},
    {"transform": [{"filter": {"field": "s", "oneOf": ["annulus–II","Y–II","Golay–6–II"]}}], "mark": {"type": "point", "filled": false, "size": 100, "strokeWidth": 1.2, "opacity": 1}, "encoding": {"shape": {"field": "s", "type": "nominal", "scale": {"domain": ["filled","annulus–I","Y–I","Golay–6–I","annulus–II","Y–II","Golay–6–II"], "range": ["M-1.6,0L1.6,0","M-1.6,0L1.6,0","M-1.6,0L1.6,0","M-1.6,0L1.6,0","M0.25,0A0.25,0.25,0,1,1,-0.25,0A0.25,0.25,0,1,1,0.25,0Z","M-0.6,0L0.6,0M0,-0.6L0,0.6","M-0.6,0L0.6,0M0,-0.6L0,0.6M-0.42,-0.42L0.42,0.42M-0.42,0.42L0.42,-0.42"]}, "legend": {"orient": "none", "legendX": 236, "legendY": 2, "title": null}}}}
  ]
}
]
}
